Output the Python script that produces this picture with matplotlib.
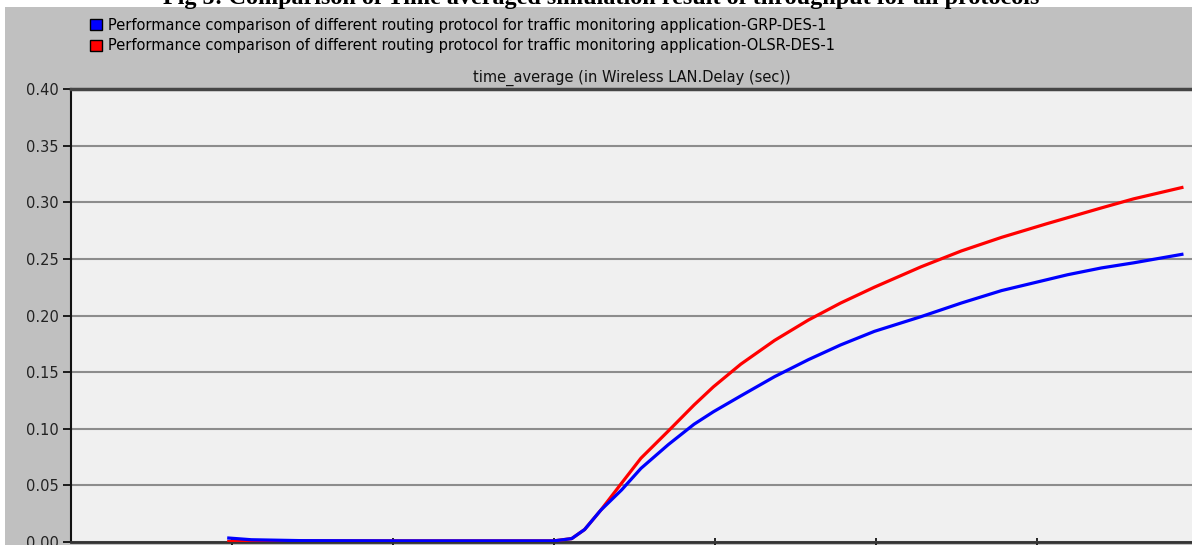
import matplotlib.pyplot as plt
from matplotlib.patches import Rectangle, Patch

# sim time in tick units (ticks every 1.0), delay in sec
grp_t = [0.98, 1.12, 1.43, 2.05, 3.0, 3.11, 3.19, 3.29, 3.42, 3.54, 3.71, 3.87, 3.99,
         4.16, 4.37, 4.58, 4.78, 4.99, 5.28, 5.53, 5.78, 6.19, 6.40, 6.60, 6.90]
grp_delay = [0.0035, 0.002, 0.0012, 0.001, 0.001, 0.003, 0.011, 0.028, 0.046, 0.065, 0.086,
             0.104, 0.115, 0.129, 0.146, 0.161, 0.174, 0.186, 0.199, 0.211, 0.222, 0.236,
             0.242, 0.2465, 0.254]

olsr_t = [0.98, 1.18, 2.05, 3.0, 3.11, 3.19, 3.29, 3.42, 3.54, 3.71, 3.87, 3.99, 4.16,
          4.37, 4.58, 4.78, 4.99, 5.28, 5.53, 5.78, 6.06, 6.40, 6.60, 6.90]
olsr_delay = [0.0005, 0.001, 0.001, 0.001, 0.003, 0.011, 0.028, 0.052, 0.074, 0.098,
              0.121, 0.137, 0.157, 0.178, 0.196, 0.211, 0.225, 0.243, 0.257, 0.269,
              0.281, 0.295, 0.303, 0.313]

yticks = [0.0, 0.05, 0.10, 0.15, 0.20, 0.25, 0.30, 0.35, 0.40]
xticks = [1, 2, 3, 4, 5, 6]

labels = ["Performance comparison of different routing protocol for traffic monitoring application-GRP-DES-1",
          "Performance comparison of different routing protocol for traffic monitoring application-OLSR-DES-1"]

W, H = 1192, 545
plt.rcParams["font.family"] = ["DejaVu Sans"]
fig = plt.figure(figsize=(W / 100, H / 100), dpi=100)
fig.patch.set_facecolor("white")

# grey frame of the OPNET panel
fig.patches.append(Rectangle((5 / W, 0), 1, 1 - 7 / H, transform=fig.transFigure,
                             facecolor="#c0c0c0", edgecolor="none", zorder=-5))

ax = fig.add_axes([71 / W, 3 / H, 1 - 71 / W, (542 - 89) / H])
ax.set_zorder(2)
ax.set_facecolor("#f0f0f0")
ax.plot(olsr_t, olsr_delay, color="#ff0000", lw=2.3, zorder=3)
ax.plot(grp_t, grp_delay, color="#0000ff", lw=2.3, zorder=4)

ax.set_xlim(0, (W - 71) / 161)
ax.set_ylim(0, 0.40)
ax.set_yticks(yticks)
ax.set_yticklabels([f"{v:.2f}" for v in yticks])
ax.set_xticks(xticks)
ax.set_xticklabels([])
ax.yaxis.grid(True, color="#8c8c8c", lw=1.5)
ax.set_axisbelow(True)
ax.tick_params(axis="y", direction="out", length=6, width=1.2, labelsize=10.5,
               labelcolor="#222222", pad=3)
ax.tick_params(axis="x", direction="inout", length=6, width=1.2)
ax.spines["top"].set_color("#454545")
ax.spines["top"].set_linewidth(2.5)
ax.spines["left"].set_color("#111111")
ax.spines["left"].set_linewidth(1.5)
ax.spines["bottom"].set_color("#333333")
ax.spines["bottom"].set_linewidth(2.0)
ax.spines["right"].set_visible(False)

ax.set_title("time_average (in Wireless LAN.Delay (sec))", fontsize=10.5, color="#111111", pad=5)

handles = [Patch(facecolor="#0000ff", edgecolor="black", lw=1),
           Patch(facecolor="#ff0000", edgecolor="black", lw=1)]
fig.legend(handles, labels, loc="upper left", bbox_to_anchor=(78 / W, 1 - 6 / H),
           frameon=False, fontsize=10.5, handlelength=0.85, handleheight=0.85,
           handletextpad=0.4, labelspacing=0.4, borderpad=0.3)

fig.text(601 / W, 1 - 4 / H,
         "Fig 5: Comparison of Time averaged simulation result of throughput for all protocols",
         ha="center", va="baseline", fontsize=17.4, fontweight="bold",
         family=["Liberation Serif", "DejaVu Serif"], zorder=5)

fig.savefig("out.png", dpi=100)
